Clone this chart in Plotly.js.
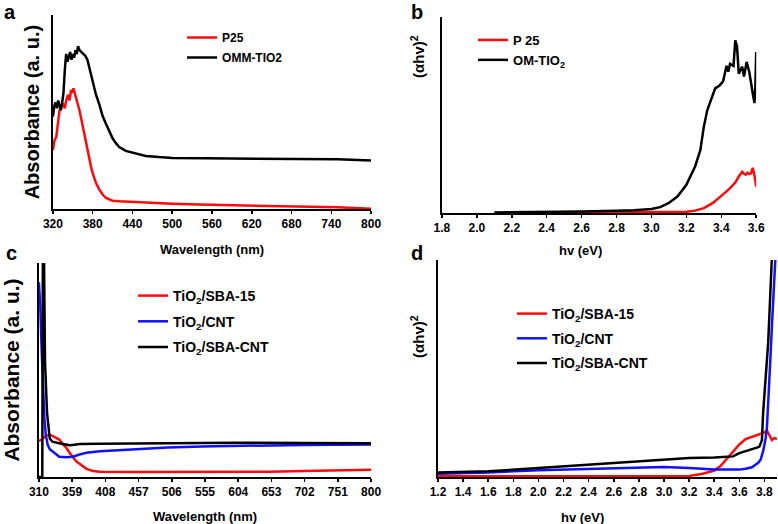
<!DOCTYPE html>
<html>
<head>
<meta charset="utf-8">
<script src="https://cdn.plot.ly/plotly-3.0.1.min.js"></script>
<style>html,body{margin:0;padding:0;background:#fff;}#chart{width:778px;height:524px;}</style>
</head>
<body>
<div id="chart"></div>
<script>
// ---------- Panel a: absorbance vs wavelength ----------
var aTicks = [320, 380, 440, 500, 560, 620, 680, 740, 800];
var aP25X = [320,322.5,325,328,330,333,335,338,340,343,345,347.5,349,351,353,355,358,360,362.5,365,367.5,370,372.5,375,378,380,385,390,395,400,405,410,420,430,440,460,480,500,540,600,650,700,750,800];
var aP25Y = [30.5,35.7,37,45,51,53,54.5,52,56,59,56,61.4,60,62.3,60,58,54,51,47,42.5,38,34,29.5,25.4,21,18.5,13.4,10,7.5,5.7,4.8,4.3,4,3.8,3.6,3.3,3,2.7,2.3,2,1.7,1.4,0.9,0.2];
var aOMMX = [320,322,324,326,328,330,332,334,336,338,340,342,344,346,348,350,352,354,356,358,360,363,366,369,372,375,378,381,385,390,395,400,405,410,415,420,430,440,450,460,480,500,550,600,650,700,750,800];
var aOMMY = [47.7,53,55,52,56,53,51,55,60,72,80,76,78,81,77,80,78,82,80,84,82,81,80,79,77,73,68,64,59,54,48,44,40,36.5,34,32,30,29,28,27.4,26.8,26.4,26.2,26,26,25.9,25.7,25];

// ---------- Panel b: (αhv)^2 vs hv ----------
var bTicks = [1.8, 2.0, 2.2, 2.4, 2.6, 2.8, 3.0, 3.2, 3.4, 3.6];
var bTickText = ["1.8","2.0","2.2","2.4","2.6","2.8","3.0","3.2","3.4","3.6"];
var bP25X = [2.5,2.8,3.0,3.1,3.2,3.25,3.3,3.35,3.4,3.43,3.45,3.48,3.5,3.52,3.53,3.54,3.55,3.56,3.57,3.58,3.59,3.6];
var bP25Y = [0.2,0.3,0.3,0.4,0.6,1.2,2.5,5,8.5,11,12.7,15.5,18.6,21,20,19.5,20.5,19.8,20.2,23,19,13.5];
var bOMX = [2.1,2.4,2.6,2.8,2.9,3.0,3.05,3.1,3.15,3.2,3.25,3.28,3.3,3.32,3.35,3.365,3.39,3.41,3.42,3.43,3.44,3.45,3.47,3.48,3.49,3.5,3.52,3.53,3.545,3.56,3.58,3.59,3.595,3.6];
var bOMY = [0.3,0.5,0.8,1.2,1.4,2.0,3.0,5.1,8.5,14.4,23.7,32,44,52.5,60,63.5,65,67,71,75,72,76,75,88,85,71,74.6,69.5,77,72,61,56,64,82];

// ---------- Panel c: absorbance vs wavelength ----------
var cTicks = [310, 359, 408, 457, 506, 555, 604, 653, 702, 751, 800];
var cSBAX = [310,315,320,325,330,335,340,345,350,355,360,365,370,380,390,400,450,500,550,600,650,700,750,800];
var cSBAY = [16.9,17.7,19.2,19.7,19.2,18.2,17.5,15.5,13.8,11.5,9.2,7.3,6.2,3.8,2.8,2.5,2.3,2.3,2.3,2.3,2.5,2.8,3.1,3.4];
var cCNTX = [310,312,314,316,318,320,323,326,330,335,340,350,355,360,370,380,400,450,500,550,600,700,800];
var cCNTY = [91,80,60,40,28,20,15,13,12,10.5,9.5,9.2,9.2,9.5,10.5,11.3,12,13,13.8,14.3,14.6,15,15.2];
var cSBACNTX = [310,315,316,317,319,322,326,330,340,350,355,360,370,400,450,500,550,600,700,800];
var cSBACNTY = [0,0,120,120,54,30,18,16.5,15.8,15,14.8,15,15.4,15.5,15.7,15.8,16,16,15.9,15.8];

// ---------- Panel d: (αhv)^2 vs hv ----------
var dTicks = [1.2,1.4,1.6,1.8,2.0,2.2,2.4,2.6,2.8,3.0,3.2,3.4,3.6,3.8];
var dTickText = ["1.2","1.4","1.6","1.8","2.0","2.2","2.4","2.6","2.8","3.0","3.2","3.4","3.6","3.8"];
var dSBAX = [1.2,2.0,2.8,3.2,3.3,3.4,3.45,3.5,3.55,3.6,3.65,3.7,3.75,3.8,3.82,3.84,3.86,3.88,3.9];
var dSBAY = [0.3,0.3,0.3,0.5,1.4,3,5,8.5,12,15,17.5,18.5,19.5,20.5,21.4,19,17,18,17.5];
var dCNTX = [1.2,1.6,2.0,2.4,2.8,3.0,3.2,3.4,3.5,3.6,3.65,3.7,3.75,3.77,3.79,3.81,3.82,3.835,3.847,3.86,3.874,3.888,3.9];
var dCNTY = [1.5,2.1,3.1,3.7,4.1,4.6,4.1,3.4,3.4,3.4,3.8,4.5,6.5,8,12,18,23,38,54,70,85,100,115];
var dSBACNTX = [1.2,1.6,2.0,2.4,2.8,3.0,3.2,3.4,3.5,3.55,3.6,3.65,3.7,3.74,3.76,3.78,3.79,3.81,3.83,3.845,3.86];
var dSBACNTY = [2.1,2.6,4.1,5.7,7.2,8.0,8.7,9.0,9.2,9.5,11,11.8,12.6,13.5,14,17,30,45,62,82,102];

var FONT = "Liberation Sans, Arial, Helvetica, sans-serif";
var RED = "#ff0a0a", BLUE = "#1010ff", BLACK = "#000000";

function tr(x, y, name, color, xa, ya, leg, grp) {
  return {x: x, y: y, name: name, type: "scatter", mode: "lines",
          line: {color: color, width: 2.5}, xaxis: xa, yaxis: ya,
          legend: leg, legendgroup: grp, hoverinfo: "skip"};
}

var data = [
  tr(aP25X, aP25Y, "P25", RED, "x", "y", "legend", "a1"),
  tr(aOMMX, aOMMY, "OMM-TIO2", BLACK, "x", "y", "legend", "a2"),
  tr(bP25X, bP25Y, "P 25", RED, "x2", "y2", "legend2", "b1"),
  tr(bOMX, bOMY, "OM-TIO<sub>2</sub>", BLACK, "x2", "y2", "legend2", "b2"),
  tr(cSBAX, cSBAY, "TiO<sub>2</sub>/SBA-15", RED, "x3", "y3", "legend3", "c1"),
  tr(cCNTX, cCNTY, "TiO<sub>2</sub>/CNT", BLUE, "x3", "y3", "legend3", "c2"),
  tr(cSBACNTX, cSBACNTY, "TiO<sub>2</sub>/SBA-CNT", BLACK, "x3", "y3", "legend3", "c3"),
  tr(dSBAX, dSBAY, "TiO<sub>2</sub>/SBA-15", RED, "x4", "y4", "legend4", "d1"),
  tr(dCNTX, dCNTY, "TiO<sub>2</sub>/CNT", BLUE, "x4", "y4", "legend4", "d2"),
  tr(dSBACNTX, dSBACNTY, "TiO<sub>2</sub>/SBA-CNT", BLACK, "x4", "y4", "legend4", "d3")
];

function xax(domain, range, tickvals, ticktext, anchor, title, standoff) {
  var o = {domain: domain, range: range, tickmode: "array", tickvals: tickvals,
    showline: true, linecolor: "#000", linewidth: 2, ticks: "outside", ticklen: 3,
    tickwidth: 1.5, tickcolor: "#000", showgrid: false, zeroline: false, anchor: anchor,
    tickfont: {family: FONT, size: 12, color: "#000", weight: 700}, fixedrange: true};
  if (ticktext) o.ticktext = ticktext;
  if (title) o.title = {text: title, font: {family: FONT, size: 13, color: "#000", weight: 700}, standoff: standoff};
  return o;
}
function yax(domain, anchor, title, size, standoff) {
  var o = {domain: domain, range: [0, 100], showticklabels: false, ticks: "",
    showline: true, linecolor: "#000", linewidth: 2, showgrid: false, zeroline: false,
    anchor: anchor, fixedrange: true};
  if (title) o.title = {text: title, font: {family: FONT, size: size, color: "#000", weight: 700}, standoff: standoff};
  return o;
}
function legend(x, y, size, gap) {
  return {x: x, y: y, xanchor: "left", yanchor: "top", bgcolor: "rgba(0,0,0,0)",
    borderwidth: 0, tracegroupgap: gap, itemclick: false, itemdoubleclick: false,
    font: {family: FONT, size: size, color: "#000", weight: 700}};
}
function ann(text, x, y, size, angle) {
  return {text: text, x: x, y: y, xref: "paper", yref: "paper", showarrow: false,
    xanchor: "center", yanchor: "middle", textangle: angle || 0,
    font: {family: FONT, size: size, color: "#000", weight: 700}};
}

var layout = {
  width: 778, height: 524,
  margin: {l: 0, r: 0, t: 0, b: 0},
  paper_bgcolor: "#fff", plot_bgcolor: "#fff",
  showlegend: true,
  xaxis: xax([0.068, 0.477], [320, 800], aTicks, null, "y", "Wavelength (nm)", 14),
  yaxis: yax([0.601, 0.971], "x", "Absorbance (a. u.)", 20, 6),
  xaxis2: xax([0.568, 0.972], [1.8, 3.6], bTicks, bTickText, "y2", null, 0),
  yaxis2: yax([0.5935, 0.968], "x2", null, 15, 0),
  xaxis3: xax([0.050, 0.477], [310, 800], cTicks, null, "y3", "Wavelength (nm)", 15),
  yaxis3: yax([0.0897, 0.498], "x3", "Absorbance (a. u.)", 21, 12),
  xaxis4: xax([0.563, 0.9987], [1.2, 3.9], dTicks, dTickText, "y4", null, 0),
  yaxis4: yax([0.0897, 0.504], "x4", null, 15, 0),
  legend: legend(0.234, 1 - 23 / 524, 12, 1),
  legend2: legend(0.608, 1 - 25 / 524, 13, 0),
  legend3: legend(0.171, 1 - 280 / 524, 14, 4.5),
  legend4: legend(0.658, 1 - 298 / 524, 14, 3.5),
  annotations: [
    ann("a", 10 / 778, 1 - 12 / 524, 20),
    ann("b", 417 / 778, 1 - 12 / 524, 20),
    ann("c", 11 / 778, 1 - 253 / 524, 20),
    ann("d", 417 / 778, 1 - 253 / 524, 20),
    ann("(αhv)<sup>2</sup>", 417 / 778, 1 - 57 / 524, 15, -90),
    ann("(αhv)<sup>2</sup>", 417 / 778, 1 - 337 / 524, 15, -90),
    ann("hv (eV)", 580 / 778, 1 - 250 / 524, 13),
    ann("hv (eV)", 582 / 778, 1 - 517 / 524, 13)
  ]
};

Plotly.newPlot("chart", data, layout, {displayModeBar: false, staticPlot: true});
</script>
</body>
</html>
